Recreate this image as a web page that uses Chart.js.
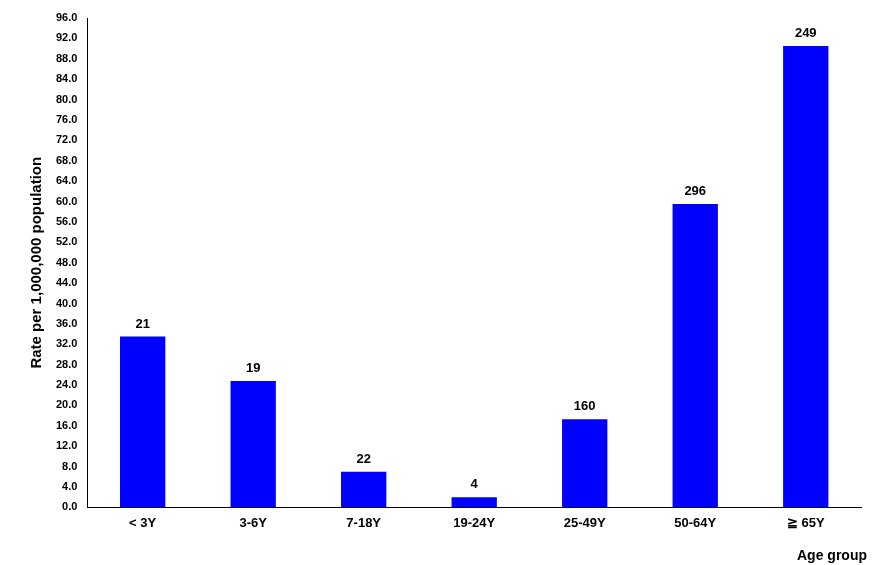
<!DOCTYPE html>
<html><head><meta charset="utf-8">
<script src="https://cdn.jsdelivr.net/npm/chart.js@4"></script>
<style>body{margin:0;background:#fff}#wrap{width:873px;height:565px;position:relative}</style>
</head><body><div id="wrap"><canvas id="c"></canvas></div>
<script>
const categories = ['< 3Y', '3-6Y', '7-18Y', '19-24Y', '25-49Y', '50-64Y', '≧ 65Y'];
const rates = [33.5, 24.8, 7.0, 2.0, 17.3, 59.5, 90.5];
const counts = [21, 19, 22, 4, 160, 296, 249];

const barLabels = {
  id: 'barLabels',
  afterDatasetsDraw(chart) {
    const ctx = chart.ctx;
    ctx.save();
    ctx.font = 'bold 13px "Liberation Sans", Arial';
    ctx.fillStyle = '#000';
    ctx.textAlign = 'center';
    ctx.textBaseline = 'bottom';
    chart.getDatasetMeta(0).data.forEach((bar, i) => {
      ctx.fillText(counts[i], bar.x, bar.y - 6);
    });
    const xs = chart.scales.x;
    ctx.font = 'bold 14px "Liberation Sans", Arial';
    ctx.textAlign = 'right';
    ctx.textBaseline = 'top';
    ctx.fillText('Age group', xs.right + 6, xs.top + 42);
    ctx.restore();
  }
};

new Chart(document.getElementById('c'), {
  type: 'bar',
  data: {
    labels: categories,
    datasets: [{ data: rates, backgroundColor: '#0000ff', barPercentage: 0.82, categoryPercentage: 0.5 }]
  },
  options: {
    responsive: true, maintainAspectRatio: false, animation: false,
    layout: { padding: { top: 18, right: 12, bottom: 26, left: 24 } },
    plugins: { legend: { display: false }, tooltip: { enabled: false } },
    scales: {
      x: {
        grid: { display: false, drawTicks: false },
        border: { color: '#000' },
        ticks: { color: '#000', padding: 8, font: { family: '"Liberation Sans", Arial', weight: 'bold', size: 13 } }
      },
      y: {
        min: 0, max: 96,
        grid: { display: false, drawTicks: true, tickLength: 4, tickColor: '#000' },
        border: { color: '#000' },
        ticks: { stepSize: 4, color: '#000', padding: 6, callback: v => v.toFixed(1),
                 font: { family: '"Liberation Sans", Arial', weight: 'bold', size: 11 } },
        title: { display: true, text: 'Rate per 1,000,000 population', color: '#000',
                 font: { family: '"Liberation Sans", Arial', weight: 'bold', size: 15 } }
      }
    }
  },
  plugins: [barLabels]
});
</script></body></html>
